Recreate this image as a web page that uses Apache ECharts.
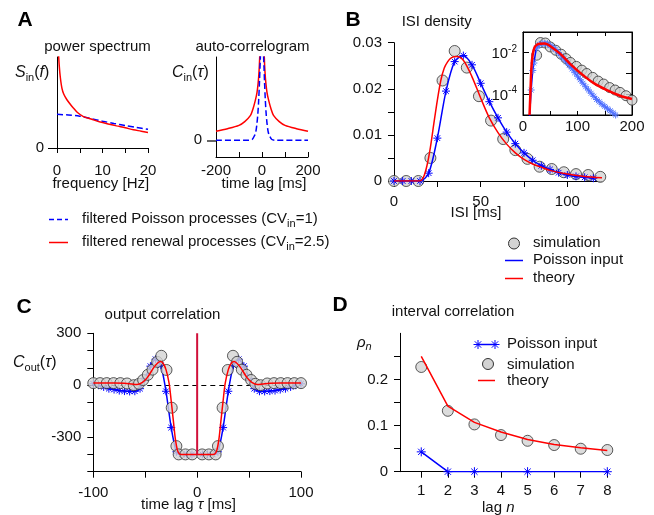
<!DOCTYPE html>
<html><head><meta charset="utf-8">
<script src="https://cdn.jsdelivr.net/npm/echarts@6/dist/echarts.min.js"></script>
<style>html,body{margin:0;padding:0;background:#fff}#c{width:654px;height:515px}</style>
</head><body><div id="c"></div>
<script>
// ---------------- Panel A : power spectrum ----------------
const psFreqR = [0.35,0.5,0.72,1.09,1.5,2.18,3.0,3.6,4.5,5.8,7.5,9.5,11.5,13.1,15,16.8,18.5,20];
const psRenewal = [1.02,0.9,0.78,0.655,0.59,0.53,0.475,0.44,0.39,0.345,0.318,0.285,0.262,0.243,0.222,0.2,0.185,0.17];
const psFreqP = [0,2.5,5,7.5,10,12.5,15,17.5,20];
const psPoisson = [0.37,0.363,0.35,0.322,0.295,0.27,0.247,0.225,0.205];
// ---------------- Panel A : auto-correlogram ----------------
const acLagR = [-200,-150,-100,-75,-50,-40,-29,-22,-17,-13,-10,-6,0,6,10,13,17,22,29,40,50,75,100,150,200];
const acRenewal = [0.11,0.14,0.18,0.225,0.3,0.37,0.48,0.57,0.68,0.82,1.0,1.4,2.2,1.4,1.0,0.82,0.68,0.57,0.48,0.37,0.3,0.225,0.18,0.14,0.11];
const acLagP = [-200,-60,-43,-32,-27,-22,-18,-14.5,-11,-8.7,-7,-4,0,4,7,8.7,11,14.5,18,22,27,32,43,60,200];
const acPoisson = [0,0,0.01,0.06,0.1,0.2,0.32,0.48,0.7,0.88,1.0,1.5,2.5,1.5,1.0,0.88,0.7,0.48,0.32,0.2,0.1,0.06,0.01,0,0];
// ---------------- Panel B : ISI density ----------------
const isiSimT = [0,7,14,21,28,35,42,49,56,63,70,77,84,91,98,105,112,119];
const isiSimV = [0,0,0,0.005,0.0218,0.0282,0.0246,0.0184,0.0131,0.0091,0.0067,0.0048,0.0031,0.0026,0.0019,0.0015,0.0013,0.0009];
const isiPoisT = [0,5,10,15,20,25,30,35,40,45,50,55,60,65,70,75,80,85,90,95,100,105,110,115];
const isiPoisV = [0,0,0,0,0.0017,0.0093,0.0195,0.0259,0.0272,0.0252,0.0212,0.0172,0.0137,0.0106,0.0081,0.0061,0.0045,0.0033,0.0025,0.0018,0.0013,0.001,0.0008,0.0006];
const isiTheoT = [0,15,17,19,21,23,25,27,29,31,33,36,40,45,50,55,60,65,70,75,80,85,90,100,110,120];
const isiTheoV = [0,0,0.0008,0.0033,0.0073,0.0125,0.0175,0.0218,0.0245,0.0259,0.0267,0.027,0.0262,0.0226,0.018,0.0137,0.0105,0.008,0.0061,0.0047,0.0037,0.003,0.0023,0.0015,0.001,0.0007];
// inset (log scale)
const insSimT = [25,32,41,50,60,70,79,87,98,108,117,128,138,148,159,169,178,189,200];
const insSimV = [0.0076,0.031,0.0295,0.019,0.0132,0.0085,0.0052,0.0034,0.0022,0.00145,0.001,0.00065,0.00043,0.00031,0.00021,0.00016,0.000123,0.000085,0.000052];
const insPoisT = [12,15,18,20,25,30,35,40,45,50,55,60,65,70,75,80,85,90,95,100,105,110,115,120,125,130,135,140,145,150,155,160,165,170];
const insPoisV = [0.000008,0.00016,0.0014,0.0032,0.0166,0.025,0.0275,0.028,0.027,0.022,0.0178,0.0141,0.0102,0.0072,0.0051,0.0036,0.00245,0.00166,0.0011,0.00074,0.0005,0.00034,0.00023,0.00016,0.000112,0.000079,0.000056,0.000043,0.000033,0.000026,0.00002,0.000016,0.0000126,0.00001];
const insTheoT = [12,13.5,15.5,18,21.5,26,31,40,52,68,86,105,129,154,178,200];
const insTheoV = [0.00001,0.0001,0.002,0.009,0.019,0.025,0.0275,0.028,0.019,0.0091,0.003,0.00107,0.000355,0.000158,0.000085,0.000059];
// ---------------- Panel C : output correlation ----------------
const coutSimTau = [-100,-93.5,-87,-80.5,-74,-67.5,-61,-56,-52,-47.5,-43,-38.5,-34.5,-29.5,-24.5,-20,-17.8,-11.3,-4.8,4.8,11.3,17.8,20,24.5,29.5,34.5,38.5,43,47.5,52,56,61,67.5,74,80.5,87,93.5,100];
const coutSimV = [12,12,12,12,12,10,0,8,30,60,90,135,170,88,-130,-352,-400,-400,-400,-400,-400,-400,-352,-130,88,170,135,90,60,30,8,0,10,12,12,12,12,12];
const coutPoisTau = [-100,-95,-90,-85,-80,-75,-70,-65,-60,-55,-50,-45,-40,-35,-30,-25,-20,-15,-10,-5,5,10,15,20,25,30,35,40,45,50,55,60,65,70,75,80,85,90,95,100];
const coutPoisV = [8,0,-10,-20,-25,-31,-34,-36,-35,-20,40,110,150,115,-35,-245,-385,-400,-400,-400,-400,-400,-400,-385,-245,-35,115,150,110,40,-20,-35,-36,-34,-31,-25,-20,-10,0,8];
const coutTheoTau = [-100,-90,-80,-70,-63,-58,-53,-48,-42,-38,-35.5,-33,-30,-27,-25,-23,-21,-19,-17,-15,0,15,17,19,21,23,25,27,30,33,35.5,38,42,48,53,58,63,70,80,90,100];
const coutTheoV = [12,12,12,11,7,4,15,44,100,128,137,128,90,10,-90,-200,-310,-375,-398,-400,-400,-400,-398,-375,-310,-200,-90,10,90,128,137,128,100,44,15,4,7,11,12,12,12];
const deltaTau = [0,0];
const deltaV = [-400,300];
// ---------------- Panel D : interval correlation ----------------
const lagN = [1,2,3,4,5,6,7,8];
const rhoSim = [0.227,0.132,0.1025,0.0794,0.067,0.0578,0.0498,0.047];
const rhoTheo = [0.25,0.142,0.107,0.086,0.07,0.059,0.052,0.046];
const rhoPoisN = [1,2,3,5,8];
const rhoPois = [0.043,0,0,0,0];

const zip = (a,b) => a.map((x,i)=>[x,b[i]]);
const FONT = '"Liberation Sans", Arial, Helvetica, sans-serif';
const BLUE = '#0000ff', RED = '#ff0000', INK = '#111';
const STAR = 'path://M5,0L5,10M0,5L10,5M1.5,1.5L8.5,8.5M1.5,8.5L8.5,1.5';
const lbl = (o) => Object.assign({color: INK, fontSize: 15, fontFamily: FONT}, o);

function xAx(grid, min, max, o){ return Object.assign({type:'value', gridIndex:grid, min, max, splitLine:{show:false},
  axisLine:{onZero:false, lineStyle:{color:'#000', width:1}}, axisTick:{inside:false, length:6, lineStyle:{color:'#000'}}}, o); }
function yAx(grid, min, max, o){ return Object.assign({type:'value', gridIndex:grid, min, max, splitLine:{show:false},
  axisLine:{onZero:false, lineStyle:{color:'#000', width:1}}, axisTick:{inside:false, length:6, lineStyle:{color:'#000'}}}, o); }

const circleStyle = {color:'#d3d3d3', borderColor:'#333', borderWidth:1};

const option = {
  animation:false,
  backgroundColor:'#fff',
  grid:[
    {left:57, top:57, width:91, height:91},
    {left:216, top:57, width:92, height:100},
    {left:394, top:42.7, width:208, height:138.3},
    {left:523, top:32, width:109, height:83, show:true, backgroundColor:'#fff', borderColor:'#000', borderWidth:1, z:10},
    {left:93.3, top:333.3, width:207.7, height:138.4},
    {left:400, top:333.3, width:207.3, height:138.4}
  ],
  xAxis:[
    xAx(0,0,20,{interval:5, axisTick:{length:5, lineStyle:{color:'#000'}, customValues:[0,5,10,15,20]},
      axisLabel:lbl({margin:15, customValues:[0,10,20]})}),
    xAx(1,-200,200,{interval:100, axisTick:{inside:true, length:5, lineStyle:{color:'#000'}, customValues:[-200,-100,0,100,200]},
      axisLabel:lbl({margin:6, customValues:[-200,0,200]})}),
    xAx(2,0,120,{interval:25, axisTick:{length:6, lineStyle:{color:'#000'}, customValues:[0,25,50,75,100]},
      axisLabel:lbl({margin:13, customValues:[0,50,100]})}),
    xAx(3,0,200,{interval:50, z:11, axisTick:{inside:true, length:4, lineStyle:{color:'#000'}},
      axisLabel:lbl({margin:4, formatter:v=> (v%100===0? String(v):'')})}),
    xAx(3,0,200,{interval:50, z:11, position:'top', axisTick:{inside:true, length:4, lineStyle:{color:'#000'}}, axisLabel:{show:false}}),
    xAx(4,-100,100,{interval:50, axisTick:{length:6, lineStyle:{color:'#000'}},
      axisLabel:lbl({margin:14, customValues:[-100,0,100]})}),
    xAx(5,0.2,8,{axisTick:{length:6, lineStyle:{color:'#000'}, customValues:[1,2,3,4,5,6,7,8]},
      axisLabel:lbl({margin:12, customValues:[1,2,3,4,5,6,7,8]})})
  ],
  yAxis:[
    yAx(0,0,1,{interval:1, axisTick:{length:9, lineStyle:{color:'#000'}, customValues:[0]},
      axisLabel:lbl({margin:13, customValues:[0]})}),
    yAx(1,-0.2,1,{interval:0.2, axisTick:{length:9, lineStyle:{color:'#666', width:2}, customValues:[0]},
      axisLabel:lbl({margin:14, customValues:[0]})}),
    yAx(2,0,0.03,{interval:0.005, axisTick:{length:6, lineStyle:{color:'#000'}},
      axisLabel:lbl({margin:12, formatter:v=>{const k=Math.round(v*1000); if(k%10!==0) return ''; return k===0?'0':(k/1000).toFixed(2);}})}),
    {type:'log', gridIndex:3, logBase:10, min:0.00001, max:0.1, z:11, splitLine:{show:false},
      axisLine:{onZero:false, lineStyle:{color:'#000'}}, axisTick:{inside:true, length:6, lineStyle:{color:'#000'}},
      axisLabel:lbl({margin:6, formatter:v=>{const e=Math.round(Math.log10(v)); return (e===-2||e===-4)?('{b|10}{s|'+e+'}'):'';},
        rich:{b:{fontSize:15, fontFamily:FONT, color:INK, lineHeight:18, verticalAlign:'bottom'}, s:{fontSize:10, fontFamily:FONT, color:INK, lineHeight:10, verticalAlign:'top'}}})},
    {type:'log', gridIndex:3, logBase:10, min:0.00001, max:0.1, z:11, position:'right', splitLine:{show:false},
      axisLine:{onZero:false, lineStyle:{color:'#000'}}, axisTick:{inside:true, length:6, lineStyle:{color:'#000'}}, axisLabel:{show:false}},
    yAx(4,-500,300,{interval:100, axisTick:{length:6, lineStyle:{color:'#000'}},
      axisLabel:lbl({margin:12, formatter:v=> (v===300||v===0||v===-300)? String(v):''})}),
    yAx(5,0,0.3,{interval:0.05, axisTick:{length:6, lineStyle:{color:'#000'}, customValues:[0,0.05,0.1,0.15,0.2,0.25]},
      axisLabel:lbl({margin:12, customValues:[0,0.1,0.2], formatter:v=> v===0?'0':String(Math.round(v*10)/10)})})
  ],
  series:[
    {type:'line', name:'filtered Poisson processes', xAxisIndex:0, yAxisIndex:0, data:zip(psFreqP,psPoisson), smooth:0.3, showSymbol:false,
      lineStyle:{color:BLUE, width:1.5, type:[6,3]}, z:3},
    {type:'line', name:'filtered renewal processes', xAxisIndex:0, yAxisIndex:0, data:zip(psFreqR,psRenewal), smooth:0.3, showSymbol:false,
      lineStyle:{color:RED, width:1.5}, z:4},
    {type:'line', name:'filtered renewal processes', xAxisIndex:1, yAxisIndex:1, data:zip(acLagR,acRenewal), smooth:0.3, showSymbol:false,
      lineStyle:{color:RED, width:1.5}, z:3},
    {type:'line', name:'filtered Poisson processes', xAxisIndex:1, yAxisIndex:1, data:zip(acLagP,acPoisson), smooth:0.3, showSymbol:false,
      lineStyle:{color:BLUE, width:1.5, type:[6,3]}, z:4},
    {type:'scatter', name:'simulation', xAxisIndex:2, yAxisIndex:2, data:zip(isiSimT,isiSimV), symbol:'circle', symbolSize:11, itemStyle:circleStyle, z:2},
    {type:'line', name:'Poisson input', xAxisIndex:2, yAxisIndex:2, data:zip(isiPoisT,isiPoisV), smooth:0.3, symbol:STAR, symbolSize:8, showSymbol:true,
      itemStyle:{color:'rgba(0,0,0,0)', borderColor:BLUE, borderWidth:1}, lineStyle:{color:BLUE, width:1.5}, z:3},
    {type:'line', name:'theory', xAxisIndex:2, yAxisIndex:2, data:zip(isiTheoT,isiTheoV), smooth:0.3, showSymbol:false,
      lineStyle:{color:RED, width:1.5}, z:4},
    {type:'scatter', name:'simulation', xAxisIndex:3, yAxisIndex:3, data:zip(insSimT,insSimV), symbol:'circle', symbolSize:10, itemStyle:circleStyle, z:12},
    {type:'line', name:'Poisson input', xAxisIndex:3, yAxisIndex:3, data:zip(insPoisT,insPoisV), smooth:0.3, symbol:STAR, symbolSize:7, showSymbol:true,
      itemStyle:{color:'rgba(0,0,0,0)', borderColor:'#5577ff', borderWidth:1}, lineStyle:{color:BLUE, width:1.5}, z:13},
    {type:'line', name:'theory', xAxisIndex:3, yAxisIndex:3, data:zip(insTheoT,insTheoV), smooth:0.3, showSymbol:false,
      lineStyle:{color:RED, width:2.5}, z:14},
    {type:'scatter', name:'simulation', xAxisIndex:5, yAxisIndex:5, data:zip(coutSimTau,coutSimV), symbol:'circle', symbolSize:11, itemStyle:circleStyle, z:3,
      markLine:{silent:true, symbol:'none', label:{show:false}, lineStyle:{color:'#000', width:1, type:[5,4]}, data:[{yAxis:0}], z:1}},
    {type:'line', name:'Poisson input', xAxisIndex:5, yAxisIndex:5, data:zip(coutPoisTau,coutPoisV), smooth:0.2, symbol:STAR, symbolSize:8, showSymbol:true,
      itemStyle:{color:'rgba(0,0,0,0)', borderColor:BLUE, borderWidth:1}, lineStyle:{color:BLUE, width:1.5}, z:2},
    {type:'line', name:'theory', xAxisIndex:5, yAxisIndex:5, data:zip(coutTheoTau,coutTheoV), smooth:0.3, showSymbol:false,
      lineStyle:{color:RED, width:1.5}, z:4},
    {type:'line', name:'delta', xAxisIndex:5, yAxisIndex:5, data:zip(deltaTau,deltaV), showSymbol:false,
      lineStyle:{color:'#d0103a', width:2}, z:5},
    {type:'line', name:'Poisson input', xAxisIndex:6, yAxisIndex:6, data:zip(rhoPoisN,rhoPois), symbol:STAR, symbolSize:9, showSymbol:true,
      itemStyle:{color:'rgba(0,0,0,0)', borderColor:BLUE, borderWidth:1}, lineStyle:{color:BLUE, width:1.5}, z:3},
    {type:'scatter', name:'simulation', xAxisIndex:6, yAxisIndex:6, data:zip(lagN,rhoSim), symbol:'circle', symbolSize:11, itemStyle:circleStyle, z:2},
    {type:'line', name:'theory', xAxisIndex:6, yAxisIndex:6, data:zip(lagN,rhoTheo), showSymbol:false,
      lineStyle:{color:RED, width:1.5}, z:4}
  ],
  graphic:[]
};

const T = (x,y,text,o) => ({type:'text', x, y, z:100, style:Object.assign({text, fill:INK, font:'15px '+FONT, align:'center', verticalAlign:'middle'}, o||{})});
const R = (x,y,text,rich,o) => ({type:'text', x, y, z:100, style:Object.assign({text, rich, fill:INK, font:'15px '+FONT, align:'left', verticalAlign:'middle'}, o||{})});
const richMath = {
  i:{fontSize:16, fontStyle:'italic', fontFamily:FONT, color:INK, lineHeight:20, verticalAlign:'middle'},
  n:{fontSize:16, fontFamily:FONT, color:INK, lineHeight:20, verticalAlign:'middle'},
  s:{fontSize:11, fontFamily:FONT, color:INK, lineHeight:11, verticalAlign:'bottom'},
  si:{fontSize:11, fontStyle:'italic', fontFamily:FONT, color:INK, lineHeight:11, verticalAlign:'bottom'},
  ri:{fontSize:15, fontStyle:'italic', fontFamily:FONT, color:INK, lineHeight:18, verticalAlign:'middle'},
  t:{fontSize:15, fontFamily:FONT, color:INK, lineHeight:20, verticalAlign:'middle'},
  ti:{fontSize:15, fontStyle:'italic', fontFamily:FONT, color:INK, lineHeight:20, verticalAlign:'middle'}
};
const G = option.graphic;
G.push(T(25,20,'A',{font:'bold 21px '+FONT, fill:'#000'}));
G.push(T(353,20,'B',{font:'bold 21px '+FONT, fill:'#000'}));
G.push(T(24,307,'C',{font:'bold 21px '+FONT, fill:'#000'}));
G.push(T(340,305,'D',{font:'bold 21px '+FONT, fill:'#000'}));
G.push(T(97.5,46.7,'power spectrum'));
G.push(T(252.5,46.7,'auto-correlogram'));
G.push(T(436.7,21.7,'ISI density'));
G.push(T(162.5,315,'output correlation'));
G.push(T(453,312,'interval correlation'));
G.push(T(100.8,183.5,'frequency [Hz]'));
G.push(T(264,184,'time lag [ms]'));
G.push(T(476,213,'ISI [ms]'));
G.push(R(141,505,'{t|time lag }{ti|τ}{t| [ms]}',richMath));
G.push(R(482,508,'{t|lag }{ti|n}',richMath));
G.push(R(15,73,'{i|S}{s|in}{n|(}{i|f}{n|)}',richMath));
G.push(R(172,73,'{i|C}{s|in}{n|(}{i|τ}{n|)}',richMath));
G.push(R(13,363,'{i|C}{s|out}{n|(}{i|τ}{n|)}',richMath));
G.push(R(357,343,'{ri|ρ}{si|n}',richMath));
G.push({type:'line', z:100, shape:{x1:49,y1:219.5,x2:68,y2:219.5}, style:{stroke:BLUE, lineWidth:1.5, lineDash:[5,3]}});
G.push(R(82,219,'{t|filtered Poisson processes (CV}{s|in}{t|=1)}',richMath));
G.push({type:'line', z:100, shape:{x1:49,y1:242.5,x2:68,y2:242.5}, style:{stroke:RED, lineWidth:1.5}});
G.push(R(82,242,'{t|filtered renewal processes (CV}{s|in}{t|=2.5)}',richMath));
G.push({type:'circle', z:100, shape:{cx:514, cy:243.5, r:5.5}, style:{fill:'#d3d3d3', stroke:'#333', lineWidth:1}});
G.push(T(533,243,'simulation',{align:'left'}));
G.push({type:'line', z:100, shape:{x1:505,y1:260.5,x2:523,y2:260.5}, style:{stroke:BLUE, lineWidth:1.5}});
G.push(T(533,260,'Poisson input',{align:'left'}));
G.push({type:'line', z:100, shape:{x1:505,y1:278.5,x2:523,y2:278.5}, style:{stroke:RED, lineWidth:1.5}});
G.push(T(533,278,'theory',{align:'left'}));
G.push({type:'line', z:100, shape:{x1:478,y1:344.5,x2:495,y2:344.5}, style:{stroke:BLUE, lineWidth:1.5}});
[478,495].forEach(cx=>{
  [[0,-4.5,0,4.5],[-4.5,0,4.5,0],[-3.2,-3.2,3.2,3.2],[-3.2,3.2,3.2,-3.2]].forEach(s=>{
    G.push({type:'line', z:101, shape:{x1:cx+s[0],y1:344.5+s[1],x2:cx+s[2],y2:344.5+s[3]}, style:{stroke:BLUE, lineWidth:1}});
  });
});
G.push(T(507,344,'Poisson input',{align:'left'}));
G.push({type:'circle', z:100, shape:{cx:488, cy:364, r:5.5}, style:{fill:'#d3d3d3', stroke:'#333', lineWidth:1}});
G.push(T(507,365,'simulation',{align:'left'}));
G.push({type:'line', z:100, shape:{x1:478,y1:380.5,x2:495,y2:380.5}, style:{stroke:RED, lineWidth:1.5}});
G.push(T(507,381,'theory',{align:'left'}));

const chart = echarts.init(document.getElementById('c'), null, {renderer:'canvas', width:654, height:515});
chart.setOption(option);
</script></body></html>
